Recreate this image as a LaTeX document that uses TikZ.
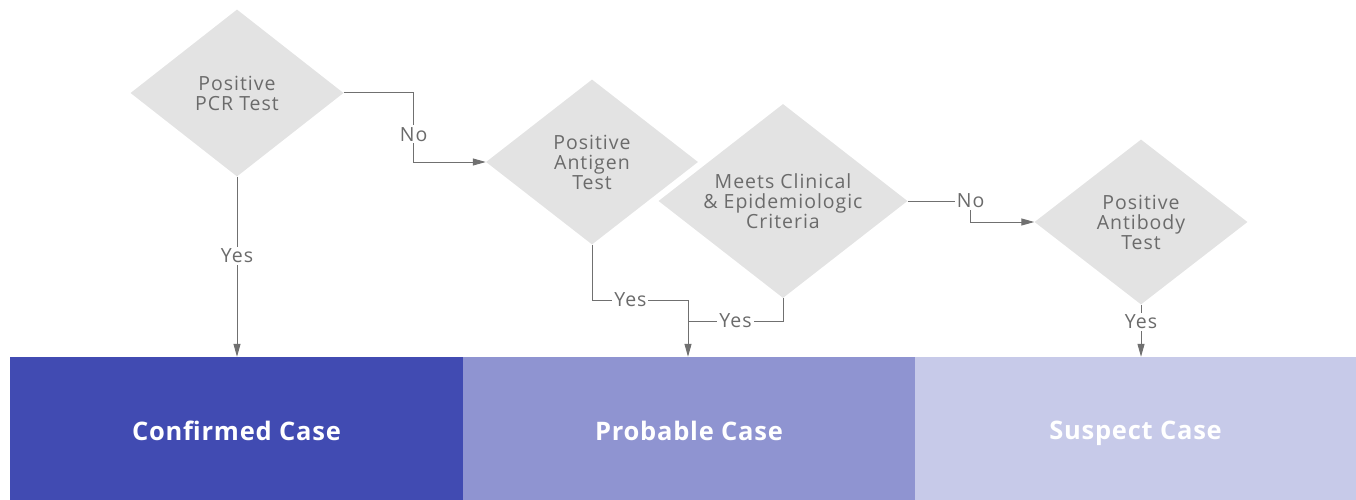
\documentclass[tikz,border=0pt]{standalone}
\usepackage{fontspec}
\setmainfont{Open Sans}
\usetikzlibrary{shapes.geometric,arrows.meta}
\definecolor{dfill}{HTML}{E3E3E3}
\definecolor{dtext}{HTML}{6B6B6B}
\definecolor{lne}{HTML}{707070}
\definecolor{cA}{HTML}{414BB2}
\definecolor{cB}{HTML}{8F94D1}
\definecolor{cC}{HTML}{C7CAE9}
\tikzset{
  dec/.style={diamond, aspect=1.28, fill=dfill, inner sep=0pt, text=dtext, align=center,
    font=\fontsize{19.5}{20}\selectfont\addfontfeature{LetterSpace=5}},
  bar/.style={rectangle, inner sep=0pt, minimum height=143pt, text=white,
    font=\fontsize{25.5}{28}\selectfont\bfseries\addfontfeature{LetterSpace=3}},
  conn/.style={draw=lne, line width=1pt, -{Triangle[length=13pt,width=7pt]}},
  plain/.style={draw=lne, line width=1pt},
  lbl/.style={fill=white, text=dtext, inner sep=2pt,
    font=\fontsize{19.5}{20}\selectfont\addfontfeature{LetterSpace=5}}
}
\begin{document}
\begin{tikzpicture}[x=1pt,y=-1pt]
\useasboundingbox (0,0) rectangle (1356,500);
% bars
\node[bar, fill=cA, minimum width=453pt] (bar1) at (236.5,428.5) {\raisebox{-12pt}[0pt][0pt]{Confirmed Case}};
\node[bar, fill=cB, minimum width=452pt] (bar2) at (689,428.5) {\raisebox{-12pt}[0pt][0pt]{Probable Case}};
\node[bar, fill=cC, minimum width=441pt] (bar3) at (1135.5,428.5) {\raisebox{-11pt}[0pt][0pt]{Suspect Case}};
% diamonds
\node[dec, minimum width=213pt, minimum height=167pt] (d1) at (237,93) {Positive\\PCR Test};
\node[dec, minimum width=212pt, minimum height=165pt] (d2) at (592,162) {Positive\\Antigen\\Test};
\node[dec, minimum width=249pt, minimum height=194pt] (d3) at (783,201) {Meets Clinical\\\& Epidemiologic\\Criteria};
\node[dec, minimum width=213pt, minimum height=165pt] (d4) at (1141,222) {Positive\\Antibody\\Test};
% connectors
\coordinate (j1) at (688,300);
\coordinate (j2) at (688,321);
\draw[conn] (d1.south) -- node[lbl, pos=0.44]{Yes} (d1.south |- bar1.north);
\draw[conn] (d1.east) -- ++(70,0) |- node[lbl, pos=0.3]{No} (d2.west);
\draw[plain] (d2.south) |- node[lbl, pos=0.7]{Yes} (j1);
\draw[conn] (j1) -- (j1 |- bar2.north);
\draw[plain] (d3.south) |- node[lbl, pos=0.75]{Yes} (j2);
\draw[conn] (d3.east) -- node[lbl, pos=1]{No} ++(63,0) |- (d4.west);
\draw[conn] (d4.south) -- node[lbl, pos=0.33]{Yes} (d4.south |- bar3.north);
\end{tikzpicture}
\end{document}
